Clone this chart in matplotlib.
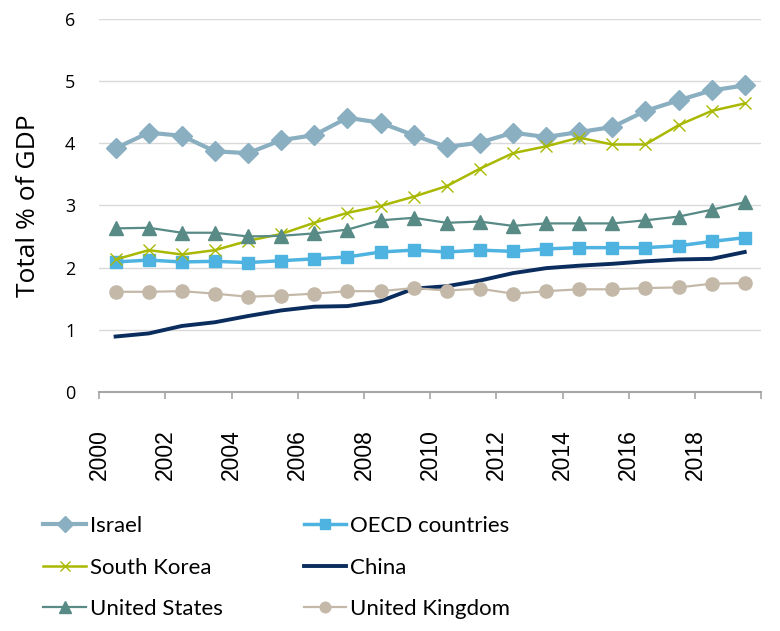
import matplotlib
matplotlib.use("Agg")
import matplotlib.pyplot as plt
import numpy as np

years = list(range(2000, 2020))
israel = [3.92, 4.17, 4.12, 3.87, 3.84, 4.05, 4.13, 4.41, 4.33, 4.13, 3.94, 4.01, 4.17, 4.10, 4.18, 4.26, 4.52, 4.69, 4.85, 4.93]
oecd = [2.09, 2.12, 2.09, 2.10, 2.08, 2.11, 2.14, 2.17, 2.25, 2.28, 2.25, 2.28, 2.26, 2.30, 2.32, 2.32, 2.32, 2.35, 2.42, 2.48]
south_korea = [2.13, 2.28, 2.21, 2.28, 2.43, 2.54, 2.72, 2.88, 2.99, 3.14, 3.31, 3.59, 3.84, 3.95, 4.09, 3.98, 3.98, 4.29, 4.52, 4.64]
china = [0.89, 0.94, 1.06, 1.12, 1.22, 1.31, 1.37, 1.38, 1.46, 1.66, 1.70, 1.79, 1.91, 1.99, 2.03, 2.06, 2.10, 2.13, 2.14, 2.25]
united_states = [2.63, 2.64, 2.56, 2.56, 2.50, 2.51, 2.55, 2.61, 2.76, 2.80, 2.72, 2.74, 2.67, 2.71, 2.71, 2.71, 2.76, 2.82, 2.93, 3.05]
united_kingdom = [1.61, 1.61, 1.62, 1.58, 1.53, 1.55, 1.58, 1.62, 1.62, 1.67, 1.63, 1.66, 1.58, 1.62, 1.65, 1.65, 1.67, 1.68, 1.74, 1.75]
tick_years = list(range(2000, 2021, 2))
tick_labels = [str(y) for y in range(2000, 2019, 2)] + [""]

plt.rcParams['font.family'] = ['Open Sans', 'DejaVu Sans']

fig = plt.figure(figsize=(7.8, 6.31), dpi=100)
ax = fig.add_axes([0.127, 0.379, 0.849, 0.591])

x = np.array(years) + 0.5

l_isr, = ax.plot(x, israel, color='#8AAFC1', lw=3, marker='D', ms=10.5, label='Israel')
l_oecd, = ax.plot(x, oecd, color='#4EB3E0', lw=2.5, marker='s', ms=9, label='OECD countries')
l_sk, = ax.plot(x, south_korea, color='#A9B800', lw=1.8, marker='x', ms=9, mew=1.0, label='South Korea')
l_cn, = ax.plot(x, china, color='#0B2D5E', lw=2.8, label='China')
l_us, = ax.plot(x, united_states, color='#588A86', lw=1.6, marker='^', ms=10.5, label='United States')
l_uk, = ax.plot(x, united_kingdom, color='#C4B9A9', lw=1.6, marker='o', ms=9.5, label='United Kingdom')

ax.set_xlim(2000, 2020)
ax.set_ylim(0, 6)
ax.set_yticks(range(0, 7))
ax.set_xticks(tick_years)
ax.set_xticklabels(tick_labels, rotation=90, fontsize=16.5,
                   family=['Liberation Sans', 'DejaVu Sans'])
ax.tick_params(axis='y', length=0, labelsize=13, pad=17)
ax.tick_params(axis='x', length=5, width=1.2, color='#A6A6A6', pad=22)
ax.grid(axis='y', color='#D9D9D9', lw=1)
ax.set_axisbelow(True)
for s in ['left', 'right', 'top']:
    ax.spines[s].set_visible(False)
ax.spines['bottom'].set_color('#A6A6A6')
ax.spines['bottom'].set_linewidth(1.5)
ax.set_ylabel('Total % of GDP', fontsize=19, labelpad=17)

handles = [l_isr, l_sk, l_us, l_oecd, l_cn, l_uk]
leg = fig.legend(handles=handles, labels=[h.get_label() for h in handles],
                 ncol=2, loc='upper left', bbox_to_anchor=(0.03, 0.214),
                 frameon=False, handlelength=1.9, handletextpad=0.18,
                 columnspacing=3.65, labelspacing=0.97, markerscale=0.8,
                 prop={'family': ['Lato', 'DejaVu Sans'], 'size': 16})

fig.savefig('out.png', dpi=100)
